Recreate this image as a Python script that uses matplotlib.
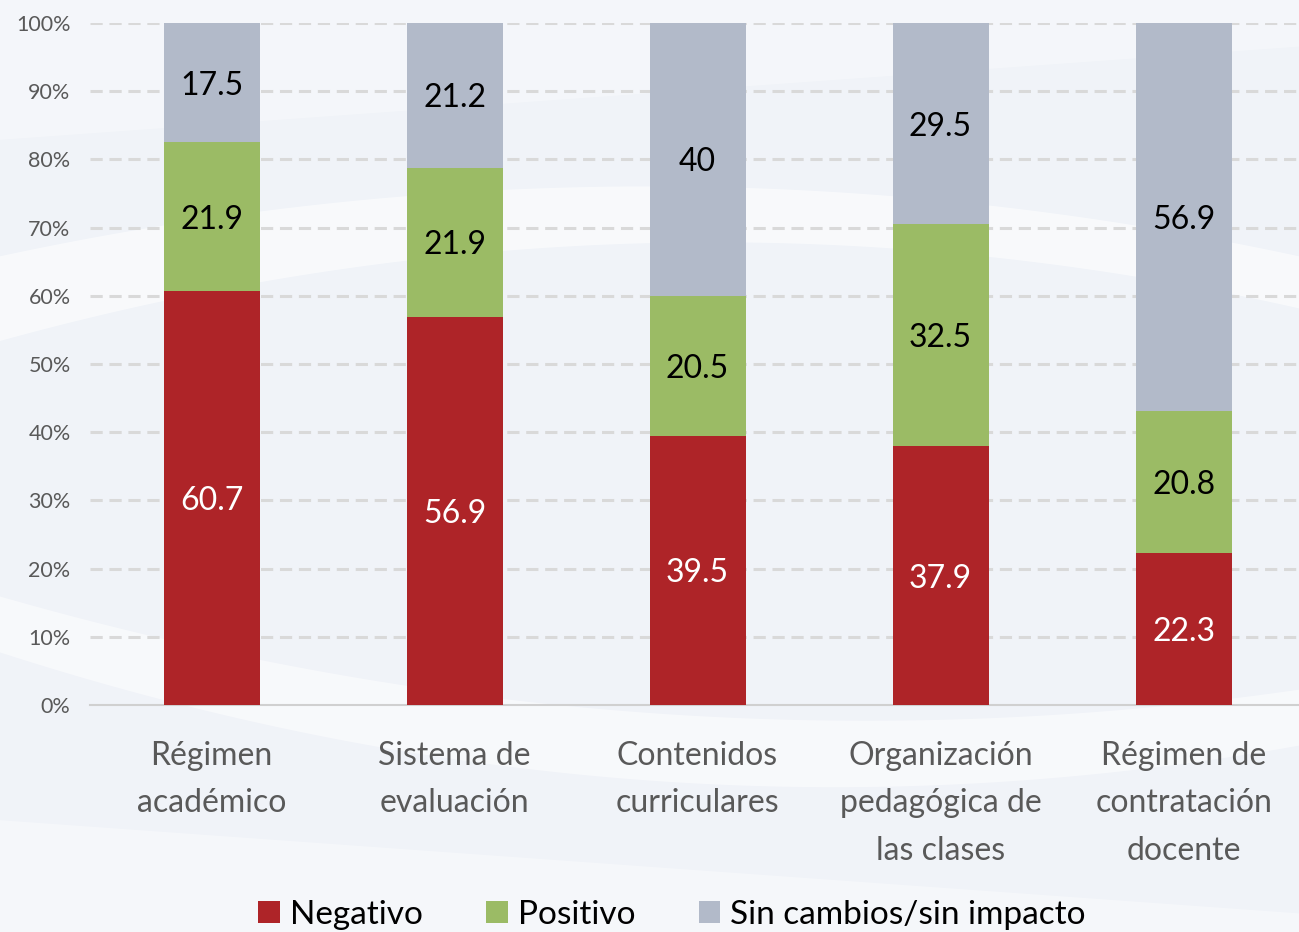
import matplotlib
matplotlib.use("Agg")
import matplotlib.pyplot as plt
import numpy as np
from matplotlib.patches import Patch

categories = ["Régimen\nacadémico", "Sistema de\nevaluación", "Contenidos\ncurriculares",
              "Organización\npedagógica de\nlas clases", "Régimen de\ncontratación\ndocente"]
negativo = [60.7, 56.9, 39.5, 37.9, 22.3]
positivo = [21.9, 21.9, 20.5, 32.5, 20.8]
sin_cambios = [17.5, 21.2, 40, 29.5, 56.9]
series_names = ["Negativo", "Positivo", "Sin cambios/sin impacto"]
yticks = [0, 10, 20, 30, 40, 50, 60, 70, 80, 90, 100]

colors = ["#ae2428", "#9bbb65", "#b2bac9"]
text_colors = ["white", "black", "black"]

plt.rcParams['font.family'] = ['Lato', 'DejaVu Sans']

fig = plt.figure(figsize=(12.99, 9.32), dpi=100)
fig.patch.set_facecolor("#f0f3f8")

# decorative background swooshes
bg = fig.add_axes([0, 0, 1, 1], zorder=-10)
bg.set_xlim(0, 1); bg.set_ylim(0, 1); bg.axis("off")
xs = np.linspace(0, 1, 200)
bg.fill_between(xs, 0.74 - 0.35 * (xs - 0.55) ** 2, 0.80 - 0.30 * (xs - 0.5) ** 2,
                color="white", alpha=0.55, lw=0)
bg.fill_between(xs, 0.30 - 0.45 * xs + 0.35 * xs ** 2, 0.36 - 0.40 * xs + 0.30 * xs ** 2,
                color="white", alpha=0.5, lw=0)
bg.fill_between(xs, 0.0, 0.12 - 0.1 * xs, color="white", alpha=0.35, lw=0)
bg.fill_between(xs, 0.85 + 0.1 * xs, 1.0, color="white", alpha=0.3, lw=0)

ax = fig.add_axes([90 / 1299, 227 / 932, 1209 / 1299, 682 / 932])
ax.set_facecolor("none")

data = np.array([negativo, positivo, sin_cambios], dtype=float)
data = data / data.sum(axis=0) * 100
x = np.arange(len(categories))
width = 0.395
bottom = np.zeros(len(categories))
raw = [negativo, positivo, sin_cambios]
for i in range(3):
    ax.bar(x, data[i], width, bottom=bottom, color=colors[i], zorder=3, linewidth=0)
    for j in range(len(categories)):
        v = raw[i][j]
        lbl = f"{v:g}"
        ax.text(x[j], bottom[j] + data[i][j] / 2, lbl, ha="center", va="center_baseline",
                color=text_colors[i], fontsize=23, zorder=4)
    bottom += data[i]

ax.set_xlim(-0.5, 4.475)
ax.set_ylim(0, 100)
ax.set_yticks(yticks)
ax.set_yticklabels([f"{t}%" for t in yticks], fontsize=15.5, color="#595959")
ax.set_xticks(x)
ax.set_xticklabels(categories, fontsize=23, color="#595959", linespacing=1.72)
ax.tick_params(axis="both", length=0)
ax.tick_params(axis="y", pad=14)
ax.tick_params(axis="x", pad=26)
for s in ["top", "right", "left"]:
    ax.spines[s].set_visible(False)
ax.spines["bottom"].set_color("#d0d0d0")
ax.spines["bottom"].set_linewidth(1.5)
ax.yaxis.grid(True, linestyle=(0, (4, 2.2)), color="#d9d9d9", linewidth=2.2, zorder=0)
ax.set_axisbelow(True)
for gl in ax.yaxis.get_gridlines()[:1]:
    gl.set_visible(False)

handles = [Patch(facecolor=c, edgecolor="none") for c in colors]
fig.legend(handles, series_names, loc="center", bbox_to_anchor=(672 / 1299, 17 / 932),
           ncol=3, frameon=False, fontsize=24, handlelength=0.65, handleheight=0.65,
           handletextpad=0.3, columnspacing=1.9, borderaxespad=0)

fig.savefig("out.png", dpi=100, facecolor=fig.get_facecolor())
